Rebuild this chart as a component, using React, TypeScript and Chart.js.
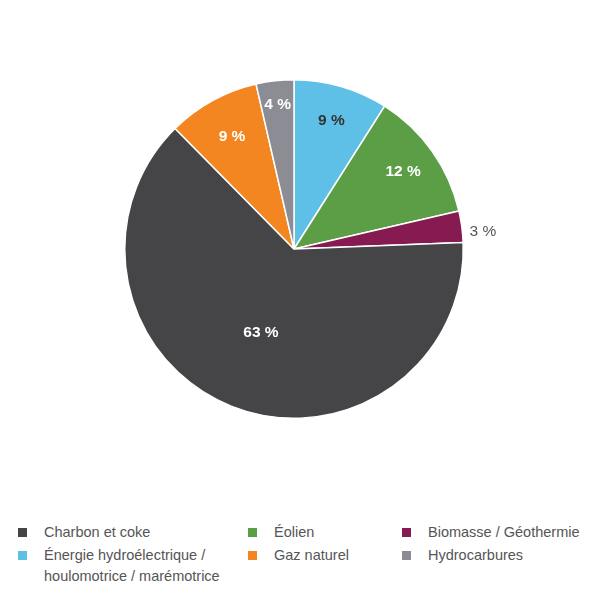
import React, { useEffect, useRef } from 'react';
import { Chart, registerables, Plugin } from 'chart.js';

Chart.register(...registerables);

// Slices in drawing order, clockwise from 12 o'clock
const sliceLabels = [
  'Énergie hydroélectrique / houlomotrice / marémotrice',
  'Éolien',
  'Biomasse / Géothermie',
  'Charbon et coke',
  'Gaz naturel',
  'Hydrocarbures',
];
const sliceValues = [9, 12.4, 3, 63.2, 8.8, 3.6];
const sliceColors = ['#5ec0e6', '#5b9e46', '#861b52', '#454547', '#f38621', '#8c8c95'];

// Legend, read row by row
const legendItems = [
  { label: 'Charbon et coke', color: '#454547' },
  { label: 'Éolien', color: '#5b9e46' },
  { label: 'Biomasse / Géothermie', color: '#861b52' },
  { label: 'Énergie hydroélectrique /\nhoulomotrice / marémotrice', color: '#5ec0e6' },
  { label: 'Gaz naturel', color: '#f38621' },
  { label: 'Hydrocarbures', color: '#8c8c95' },
];

// label distance from centre, as fraction of radius (>1 means outside)
const labelRadius = [0.79, 0.79, 1.1, 0.53, 0.76, 0.86];
const labelColor = ['#333333', '#ffffff', '#555555', '#ffffff', '#ffffff', '#ffffff'];
const labelBold = [true, true, false, true, true, true];

const sliceLabelPlugin: Plugin<'pie'> = {
  id: 'sliceLabels',
  afterDatasetsDraw(chart) {
    const ctx = chart.ctx;
    const meta = chart.getDatasetMeta(0);
    meta.data.forEach((arc: any, i) => {
      const { x, y, startAngle, endAngle, outerRadius } = arc.getProps(
        ['x', 'y', 'startAngle', 'endAngle', 'outerRadius'],
        true
      );
      const mid = (startAngle + endAngle) / 2;
      const r = outerRadius * labelRadius[i];
      const outside = labelRadius[i] > 1;
      const lx = x + Math.cos(mid) * r;
      const ly = y + Math.sin(mid) * r;
      ctx.save();
      ctx.font = `${labelBold[i] ? 'bold ' : ''}15.5px "Liberation Sans", Arial, sans-serif`;
      ctx.fillStyle = labelColor[i];
      ctx.textAlign = outside ? 'left' : 'center';
      ctx.textBaseline = 'middle';
      // outside labels sit just right of the slice edge
      ctx.fillText(`${Math.round(sliceValues[i])} %`, outside ? lx - 9 : lx, outside ? ly + 7 : ly);
      ctx.restore();
    });
  },
};

const PieChart: React.FC = () => {
  const canvasRef = useRef<HTMLCanvasElement>(null);
  const chartRef = useRef<Chart<'pie'> | null>(null);

  useEffect(() => {
    if (!canvasRef.current) return;
    if (chartRef.current) chartRef.current.destroy();

    chartRef.current = new Chart(canvasRef.current, {
      type: 'pie',
      data: {
        labels: sliceLabels,
        datasets: [
          {
            data: sliceValues,
            backgroundColor: sliceColors,
            borderColor: '#ffffff',
            borderWidth: 1.5,
          },
        ],
      },
      options: {
        animation: false,
        responsive: false,
        maintainAspectRatio: false,
        layout: { padding: { top: 79, bottom: 79, left: 0, right: 0 } },
        plugins: {
          legend: { display: false },
          tooltip: { enabled: false },
        },
      },
      plugins: [sliceLabelPlugin],
    });

    return () => {
      if (chartRef.current) {
        chartRef.current.destroy();
        chartRef.current = null;
      }
    };
  }, []);

  return (
    <canvas
      ref={canvasRef}
      width={588}
      height={498}
      style={ { position: 'absolute', left: 0, top: 0, width: 588, height: 498 }}
    />
  );
};

const columnX = [18, 248, 402];

const App: React.FC = () => {
  return (
    <div
      style={ {
        position: 'absolute',
        left: 0,
        top: 0,
        width: 600,
        height: 601,
        background: '#ffffff',
        fontFamily: '"Liberation Sans", Arial, sans-serif',
      }}
    >
      <PieChart />
      {legendItems.map((item, i) => {
        const col = i % 3;
        const row = Math.floor(i / 3);
        return (
          <div
            key={item.label}
            style={ {
              position: 'absolute',
              left: columnX[col],
              top: 522 + row * 23,
              display: 'flex',
              alignItems: 'flex-start',
            }}
          >
            <span
              style={ {
                display: 'inline-block',
                width: 9,
                height: 9,
                marginTop: 6,
                background: item.color,
              }}
            />
            <span
              style={ {
                marginLeft: 17,
                fontSize: 14.5,
                lineHeight: '21px',
                color: '#555555',
                whiteSpace: 'pre',
              }}
            >
              {item.label}
            </span>
          </div>
        );
      })}
    </div>
  );
};

export default App;
